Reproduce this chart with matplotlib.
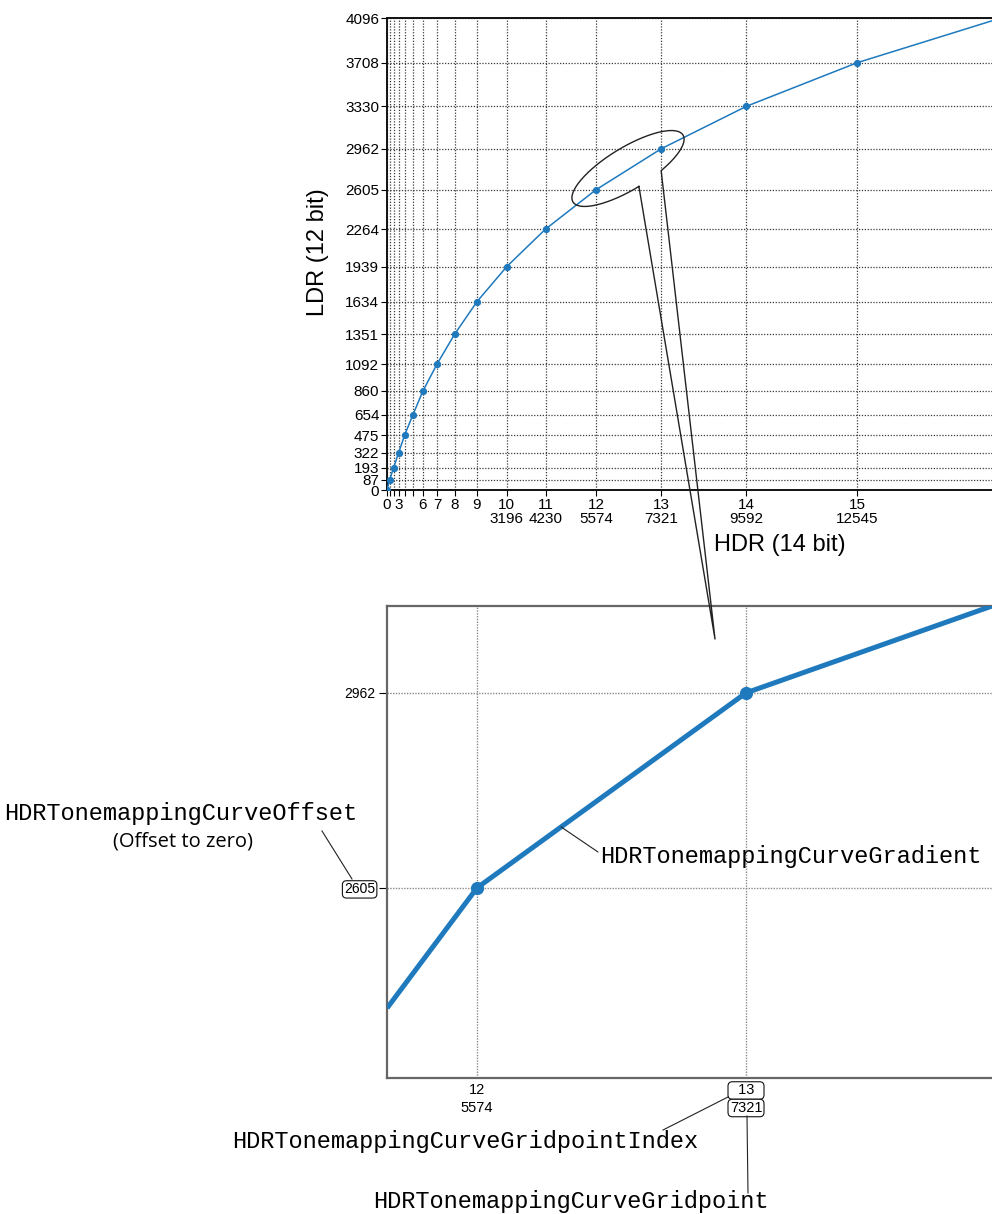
import numpy as np
import matplotlib
matplotlib.use("Agg")
import matplotlib.pyplot as plt
from matplotlib.lines import Line2D
from matplotlib.transforms import blended_transform_factory

# ---------------- data ----------------
gridpoint_index = list(range(17))
hdr_values = [0, 69, 176, 309, 469, 693, 960, 1333, 1803, 2400,
              3196, 4230, 5574, 7321, 9592, 12545, 16383]
ldr_values = [0, 87, 193, 322, 475, 654, 860, 1092, 1351, 1634,
              1939, 2264, 2605, 2962, 3330, 3708, 4096]
hidden_x_labels = [1, 2, 4, 5, 16]

# detail panel (curve as drawn in the zoomed view)
zoom_hdr = [4990, 5574, 7321, 8919]
zoom_ldr = [2385, 2605, 2962, 3121]
zoom_point_index = [12, 13]
zoom_yticks = [2605, 2962]

BLUE = "#1f79bd"
MONO = "Liberation Mono"
plt.rcParams["font.family"] = ["Liberation Sans", "DejaVu Sans"]

W, H = 992, 1214
fig = plt.figure(figsize=(W / 100, H / 100), dpi=100)


def fx(x):
    return x / W


def fy(y):
    return 1 - y / H


# ---------------- top chart ----------------
ax1 = fig.add_axes([fx(387), fy(490), (1001 - 387) / W, (490 - 18) / H])
ax1.plot(hdr_values, ldr_values, color=BLUE, lw=1.1, marker="o", ms=4.2, zorder=3)
ax1.set_xlim(0, 16383)
ax1.set_ylim(0, 4096)
xlabels = []
for i, h in zip(gridpoint_index, hdr_values):
    if i in hidden_x_labels:
        xlabels.append("")
    elif i < 10:
        xlabels.append(str(i))
    else:
        xlabels.append(f"{i}\n{h}")
ax1.set_xticks(hdr_values)
ax1.set_xticklabels(xlabels, fontsize=11, linespacing=1.05)
ax1.set_yticks(ldr_values)
ax1.set_yticklabels([str(v) for v in ldr_values], fontsize=11)
ax1.tick_params(direction="out", length=4, width=0.8, pad=1.5)
ax1.grid(True, ls=(0, (1, 1.3)), color="#3a3a3a", lw=0.9)
ax1.spines["right"].set_visible(False)
for s in ("left", "bottom", "top"):
    ax1.spines[s].set_linewidth(1.4)
    ax1.spines[s].set_color("#111111")

fig.text(fx(780), fy(545), "HDR (14 bit)", ha="center", va="center", fontsize=17)
fig.text(fx(318), fy(252), "LDR (12 bit)", ha="center", va="center",
         rotation=90, fontsize=17)

# ellipse + callout wedge (pixel space)
cx, cy = 628, 168.5
a, b = 64.4, 21.0
ang = np.deg2rad(31.3)
u = np.array([np.cos(ang), -np.sin(ang)])
v = np.array([-np.sin(ang), -np.cos(ang)])
t = np.deg2rad(np.linspace(270, -65, 240))
ex = cx + a * np.cos(t) * u[0] + b * np.sin(t) * v[0]
ey = cy + a * np.cos(t) * u[1] + b * np.sin(t) * v[1]
px_x = list(ex) + [715, ex[0]]
px_y = list(ey) + [639, ey[0]]
fig.add_artist(Line2D([fx(x) for x in px_x], [fy(y) for y in px_y],
                      transform=fig.transFigure, color="#222222", lw=1.0))

# ---------------- detail chart ----------------
ax2 = fig.add_axes([fx(387), fy(1078), (1001 - 387) / W, (1078 - 606) / H])
ax2.plot(zoom_hdr, zoom_ldr, color=BLUE, lw=3.6, solid_capstyle="butt", zorder=3)
ax2.plot([hdr_values[i] for i in zoom_point_index],
         [ldr_values[i] for i in zoom_point_index],
         "o", color=BLUE, ms=8.5, zorder=4)
ax2.set_xlim(4989.5, 8977)
ax2.set_ylim(2257, 3121)
ax2.set_xticks([hdr_values[i] for i in zoom_point_index])
ax2.set_xticklabels(["", ""])
ax2.tick_params(axis="x", length=0)
ax2.set_yticks(zoom_yticks)
ax2.set_yticklabels([str(v) for v in zoom_yticks], fontsize=10)
ax2.tick_params(axis="y", direction="out", length=6, width=0.8, pad=2.5)
ax2.grid(True, ls=(0, (1, 1)), color="#8a8a8a", lw=1.0)
ax2.spines["right"].set_visible(False)
for s in ("left", "bottom", "top"):
    ax2.spines[s].set_linewidth(1.6)
    ax2.spines[s].set_color("#666666")

box = dict(boxstyle="round,pad=0.12,rounding_size=0.3", fc="white", ec="#111111", lw=0.8)
for lab in ax2.get_yticklabels():
    if lab.get_text() == "2605":
        lab.set_bbox(box)

trans = blended_transform_factory(ax2.transData, ax2.transAxes)
i12, i13 = zoom_point_index
ax2.text(hdr_values[i12], -12 / 472, str(i12), transform=trans, ha="center",
         va="center", fontsize=10.5)
ax2.text(hdr_values[i12], -30 / 472, str(hdr_values[i12]), transform=trans,
         ha="center", va="center", fontsize=10.5)
ax2.text(hdr_values[i13], -12.5 / 472, "\u2007" + str(i13) + "\u2007", transform=trans,
         ha="center", va="center", fontsize=10.5, bbox=box)
ax2.text(hdr_values[i13], -30 / 472, str(hdr_values[i13]), transform=trans,
         ha="center", va="center", fontsize=10.5, bbox=box)

# ---------------- annotations ----------------
fig.text(fx(181), fy(820), "HDRTonemappingCurveOffset", ha="center",
         va="baseline", family=MONO, fontsize=17)
fig.text(fx(183), fy(846), "(Offset to zero)", ha="center", va="baseline",
         family="Open Sans", fontsize=14.5)
fig.add_artist(Line2D([fx(322), fx(352)], [fy(831), fy(879)],
                      transform=fig.transFigure, color="#222222", lw=0.8))

gx = 6120
ax2.annotate("", xy=(gx, np.interp(gx, zoom_hdr, zoom_ldr)),
             xytext=(598, H - 852), textcoords="figure pixels",
             arrowprops=dict(arrowstyle="-", lw=0.8, color="#222222",
                             shrinkA=0, shrinkB=0), annotation_clip=False)
fig.text(fx(600), fy(863), "HDRTonemappingCurveGradient", ha="left",
         va="baseline", family=MONO, fontsize=17)

fig.text(fx(465.5), fy(1148), "HDRTonemappingCurveGridpointIndex", ha="center",
         va="baseline", family=MONO, fontsize=17)
fig.add_artist(Line2D([fx(663), fx(728)], [fy(1130), fy(1097)],
                      transform=fig.transFigure, color="#222222", lw=0.8))

fig.text(fx(571), fy(1208), "HDRTonemappingCurveGridpoint", ha="center",
         va="baseline", family=MONO, fontsize=17)
fig.add_artist(Line2D([fx(747), fx(748)], [fy(1116), fy(1193)],
                      transform=fig.transFigure, color="#222222", lw=0.8))

fig.savefig("out.png", dpi=100)
